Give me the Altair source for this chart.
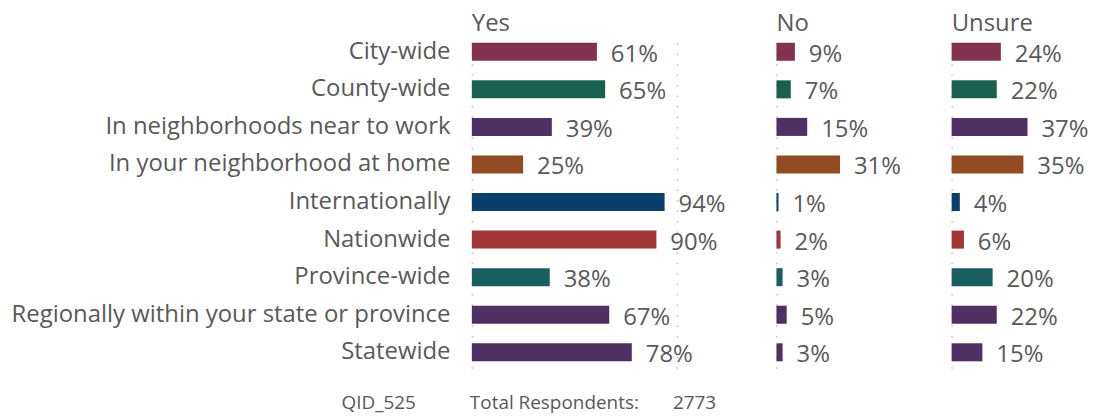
import altair as alt
import pandas as pd

categories = [
    "City-wide",
    "County-wide",
    "In neighborhoods near to work",
    "In your neighborhood at home\u00a0",
    "Internationally",
    "Nationwide",
    "Province-wide",
    "Regionally within your state or province",
    "Statewide",
]
yes = [61, 65, 39, 25, 94, 90, 38, 67, 78]
no = [9, 7, 15, 31, 1, 2, 3, 5, 3]
unsure = [24, 22, 37, 35, 4, 6, 20, 22, 15]
colors = ["#833250", "#1a604e", "#4f3063", "#924b23", "#0b3f6b",
          "#a23535", "#1a5f5f", "#4f3063", "#4f3063"]
footer_qid = "QID_525"
footer_label = "Total Respondents:"
footer_total = "2773"

FONT = "Open Sans"
GRAY = "#595959"
PX_PER_PCT = 2.06
H = 334

df = pd.DataFrame({
    "cat": categories,
    "yes": yes,
    "no": no,
    "unsure": unsure,
    "yes_lbl": [f"{v}%" for v in yes],
    "no_lbl": [f"{v}%" for v in no],
    "unsure_lbl": [f"{v}%" for v in unsure],
})

color_enc = alt.Color("cat:N", scale=alt.Scale(domain=categories, range=colors), legend=None)


def panel(field, title, width, grid_vals, show_labels, extra=None):
    if show_labels:
        yaxis = alt.Axis(title=None, labelFontSize=24, labelColor=GRAY, labelFont=FONT,
                         labelPadding=22, ticks=False, domain=False, labelLimit=0, grid=False)
    else:
        yaxis = None
    yenc = alt.Y("cat:N", sort=categories,
                 scale=alt.Scale(paddingInner=0.52, paddingOuter=0.185), axis=yaxis)
    xscale = alt.Scale(domain=[0, width / PX_PER_PCT], nice=False, zero=True)
    xaxis = alt.Axis(values=grid_vals, grid=True, gridDash=[1.5, 9], gridColor="#bfbfbf",
                     gridWidth=1.5, labels=False, ticks=False, domain=False, title=None)
    base = alt.Chart(df)
    bars = base.mark_bar().encode(
        x=alt.X(f"{field}:Q", scale=xscale, axis=xaxis), y=yenc, color=color_enc)
    text = base.mark_text(align="left", baseline="middle", dx=14, dy=3, fontSize=24,
                          color=GRAY, font=FONT).encode(
        x=alt.X(f"{field}:Q", scale=xscale), y=alt.Y("cat:N", sort=categories),
        text=f"{field}_lbl:N")
    layers = [bars, text]
    if extra:
        layers += extra
    return alt.layer(*layers).properties(
        width=width, height=H,
        title=alt.TitleParams(title, anchor="start", frame="group", fontSize=24,
                              fontWeight="normal", color=GRAY, font=FONT, offset=0),
    )


def footer(txt, xpos):
    return alt.Chart(pd.DataFrame({"t": [txt]})).mark_text(
        align="left", baseline="alphabetic", fontSize=19, color=GRAY, font=FONT
    ).encode(x=alt.value(xpos), y=alt.value(H + 41), text="t:N")


yes_panel = panel("yes", "Yes", 306, [0, 100], True,
                  extra=[footer(footer_qid, -131), footer(footer_label, -2), footer(footer_total, 202)])
no_panel = panel("no", "No", 176, [0], False)
unsure_panel = panel("unsure", "Unsure", 128, [0], False)

chart = alt.HConcatChart(
    hconcat=[yes_panel, no_panel, unsure_panel], bounds="flush", spacing=0,
    padding={"left": 2, "top": 3, "right": 0, "bottom": 0},
).resolve_scale(x="independent").configure_view(stroke=None)

chart.save("out.html", embed_options={"renderer": "svg", "actions": False})
